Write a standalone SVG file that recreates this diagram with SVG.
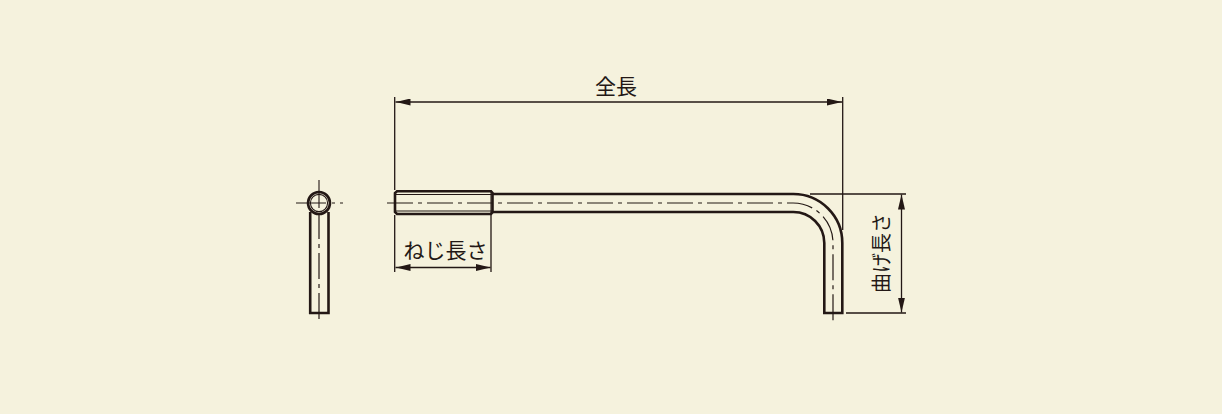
<svg xmlns="http://www.w3.org/2000/svg" width="1222" height="414" viewBox="0 0 1222 414">
<defs>
<marker id="arr" viewBox="0 0 15 7" refX="15" refY="3.5" markerWidth="15" markerHeight="7" markerUnits="userSpaceOnUse" orient="auto-start-reverse"><path d="M0 0L15 3.5L0 7Z" fill="#231815"/></marker>
</defs>
<style>
.o{fill:none;stroke:#231815;stroke-width:2.6}
.t{fill:none;stroke:#231815;stroke-width:1.1}
.c{fill:none;stroke:#231815;stroke-width:1.2;stroke-dasharray:26 5 4 5}
.d{fill:none;stroke:#231815;stroke-width:1.3}
.a{marker-start:url(#arr);marker-end:url(#arr)}
text{font-family:"Noto Sans CJK JP","Noto Sans CJK SC",sans-serif;font-size:21px;fill:#231815;text-anchor:middle}
</style>
<rect width="1222" height="414" fill="#f5f2dd"/>
<g id="end-view">
<path class="o" d="M310.2 212V313H328.5V212"/>
<circle class="o" cx="319" cy="203" r="11" style="fill:#f5f2dd"/>
<circle class="t" cx="319" cy="203" r="8.6"/>
<path class="t" d="M296 203H326M332 203H335M340 203H343M319 180V208"/>
<path class="c" d="M319 213V323"/>
</g>
<g id="rod">
<path class="o" d="M493 194H793A49 49 0 0 1 842.3 243V313H824.3V243A31 31 0 0 0 793 212H493"/>
<path class="o" d="M397 191.2H491L492.5 193V212.2L491 214H397L395 212V193Z"/>
<path class="t" d="M395 194.5H492M395 211H492M491 191V214"/>
<path class="c" d="M387 203H793A40 40 0 0 1 833 243V323"/>
</g>
<g id="connectors">
<path class="d" d="M394.7 97V190M842.7 97V230M394.7 215V272M491 215V272M810 194H906M846 313H906"/>
<path class="d a" d="M395.5 102H842"/>
<path class="d a" d="M395.5 267.5H490.5"/>
<path class="d a" d="M901.5 194.5V312.5"/>
</g>
<g id="label-total"><text x="616" y="94">全長</text></g>
<g id="label-thread"><text x="445.5" y="258">ねじ長さ</text></g>
<g id="label-bend"><text transform="translate(889 253) rotate(-90)" style="font-size:20px">曲げ長さ</text></g>
</svg>
